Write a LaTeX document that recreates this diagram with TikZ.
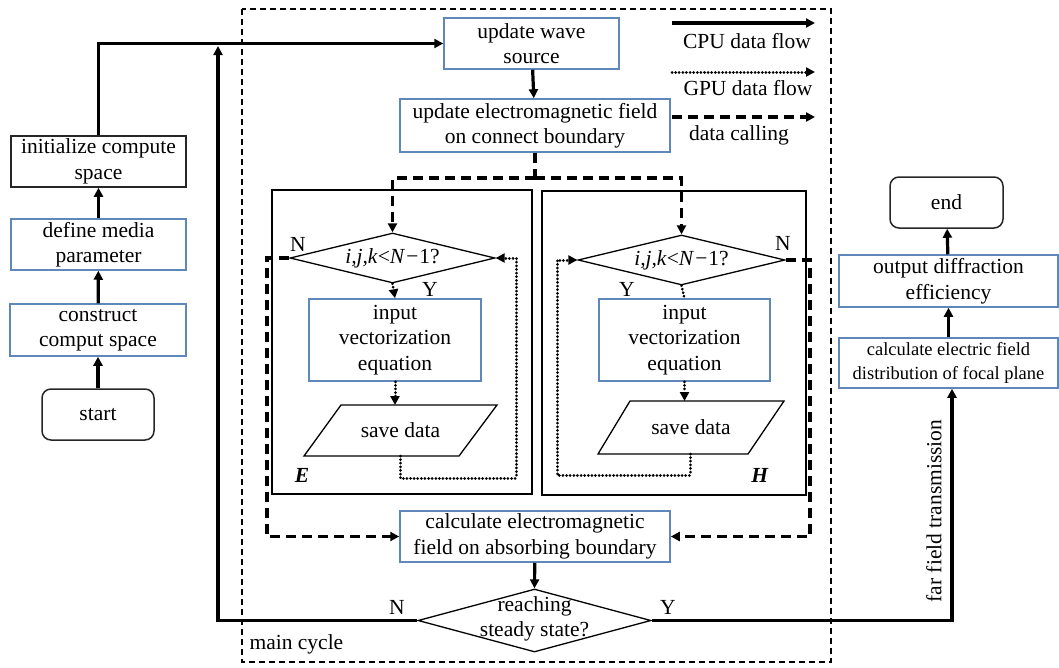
\documentclass[tikz,border=0pt]{standalone}
\usepackage{fontspec}
\setmainfont{Liberation Serif}
\usetikzlibrary{arrows.meta,shapes.geometric,calc}
\definecolor{bblue}{RGB}{96,135,185}
\begin{document}
\begin{tikzpicture}[x=1pt,y=-1pt,
  font=\fontsize{21.5}{25.5}\selectfont,
  bk/.style={draw=black!85, line width=1.5pt, align=center, inner sep=0pt},
  bl/.style={draw=bblue, line width=1.5pt, align=center, inner sep=0pt},
  rb/.style={bk, rounded corners=9pt},
  dm/.style={diamond, draw, line width=1.3pt, inner sep=0pt},
  arr/.style={-{Triangle[length=9pt,width=9pt]}},
  cpu/.style={line width=3.2pt},
  gpu/.style={line width=3pt, line cap=round, dash pattern=on 0.01pt off 3.6pt},
  dcall/.style={line width=3.2pt, dash pattern=on 10pt off 6pt},
  mainc/.style={line width=1.4pt, dash pattern=on 6pt off 4pt},
  frame/.style={draw, line width=1.8pt}
]
\useasboundingbox (0,0) rectangle (1059,667);

% main cycle frame
\draw[mainc] (242,9) rectangle (831,662);
\node[anchor=west] (mc) at (246,644) {main cycle};

% left column
\node[bk, minimum width=175pt, minimum height=51pt] (init) at (98.5,161.5) {initialize compute\\space};
\node[bl, minimum width=175pt, minimum height=51pt] (media) at (98.5,244.5) {define media\\parameter};
\node[bl, minimum width=176pt, minimum height=52pt] (cons) at (98,330) {construct\\comput space};
\node[rb, minimum width=112pt, minimum height=51pt] (start) at (98,414.5) {start};

\draw[cpu,arr] (start) -- (cons);
\draw[cpu,arr] (cons) -- (media);
\draw[cpu,arr] (media) -- (init);

% top boxes
\node[bl, minimum width=175pt, minimum height=51pt] (wave) at (531.5,43.5) {update wave\\source};
\node[bl, minimum width=270pt, minimum height=53pt] (upd) at (535,125.5) {update electromagnetic field\\on connect boundary};
\draw[cpu,arr] (init.north) |- (wave.west);
\draw[cpu,arr] (wave) -- (upd);

% legend
\coordinate (l1a) at (672,23); \coordinate (l1b) at (815,23);
\coordinate (l2a) at (672,72); \coordinate (l2b) at (815,72);
\coordinate (l3a) at (672,117); \coordinate (l3b) at (815,117);
\draw[cpu,arr] (l1a) -- (l1b);
\draw[gpu,arr] (l2a) -- (l2b);
\draw[dcall,arr] (l3a) -- (l3b);
\node (l1t) at (747,41) {CPU data flow};
\node (l2t) at (748,88) {GPU data flow};
\node (l3t) at (739,135) {data calling};

% E and H frames
\draw[frame] (272,190) rectangle (532,494);
\draw[frame] (542,191) rectangle (806,495);
\node (Elab) at (302,475) {\textbf{\textit{E}}};
\node (Hlab) at (760,475) {\textbf{\textit{H}}};

% E branch
\node[dm, minimum width=205pt, minimum height=50pt] (Ed) at (392.5,258) {};
\node (Edt) at (392.5,258) {\textit{i,j,k}<\textit{N}\kern1pt−\kern1pt1?};
\node[bl, minimum width=172pt, minimum height=82pt] (Ein) at (395,340) {input\\vectorization\\equation};
\draw[line width=1.3pt] (304,456) -- (341,405) -- (497,405) -- (459,456) -- cycle;
\node (Es) at (400.5,430.5) {save data};
\coordinate (EsT) at (395,405);
\coordinate (EsB) at (400,456);
\node (EN) at (298,244) {N};
\node (EY) at (430,289) {Y};

% H branch
\node[dm, minimum width=207pt, minimum height=50pt] (Hd) at (681.5,260) {};
\node (Hdt) at (681.5,260) {\textit{i,j,k}<\textit{N}\kern1pt−\kern1pt1?};
\node[bl, minimum width=171pt, minimum height=82pt] (Hin) at (684.5,340) {input\\vectorization\\equation};
\draw[line width=1.3pt] (598,454) -- (630,401) -- (784,401) -- (748,454) -- cycle;
\node (Hs) at (691,427.5) {save data};
\coordinate (HsT) at (684.5,401);
\coordinate (HsB) at (690,454);
\node (HN) at (783,243) {N};
\node (HY) at (627,289) {Y};

% data calling split
\coordinate (split) at (535,178);
\draw[dcall] (upd.south) -- (split);
\draw[dcall,arr] (split) -| (Ed.north);
\draw[dcall,arr] (split) -| (Hd.north);

% GPU flows E
\draw[gpu,arr] (Ed.south) -- (Ein.north);
\draw[gpu,arr] (Ein.south) -- (EsT);
\coordinate (Eq1) at (400,478);
\coordinate (Eq2) at (516,478);
\draw[gpu,arr] (EsB) -- (Eq1) -- (Eq2) -- (Eq2 |- Ed.east) -- (Ed.east);

% GPU flows H
\draw[gpu] (Hd.south) -- (Hin.north);
\draw[gpu,arr] (Hin.south) -- (HsT);
\coordinate (Hq1) at (690,475);
\coordinate (Hq2) at (557,475);
\draw[gpu,arr] (HsB) -- (Hq1) -- (Hq2) -- (Hq2 |- Hd.west) -- (Hd.west);

% absorbing boundary
\node[bl, minimum width=270pt, minimum height=51pt] (calc) at (535,536.5) {calculate electromagnetic\\field on absorbing boundary};
\coordinate (EL) at (267,258);
\coordinate (HR) at (810,260);
\draw[dcall,arr] (Ed.west) -- (EL) -- (EL |- calc.west) -- (calc.west);
\draw[dcall,arr] (Hd.east) -- (HR) -- (HR |- calc.east) -- (calc.east);

% steady state
\node[dm, minimum width=233pt, minimum height=63pt] (reach) at (534.5,620.5) {};
\node (reacht) at (534.5,619) [align=center] {reaching\\steady state?};
\draw[cpu,arr] (calc) -- (reach.north);
\node (RN) at (397,607) {N};
\node (RY) at (668,607) {Y};
\coordinate (loopTop) at (218,46);
\draw[cpu,arr] (reach.west) -| (loopTop);

% right column
\node[rb, minimum width=113pt, minimum height=51pt] (endn) at (946.5,202.5) {end};
\node[bl, minimum width=219pt, minimum height=52pt] (outd) at (948.5,281) {output diffraction\\efficiency};
\node[bl, minimum width=219pt, minimum height=50pt, font=\fontsize{18.5}{24}\selectfont] (cE) at (948.5,363) {calculate electric field\\distribution of focal plane};
\draw[cpu,arr] (cE) -- (outd);
\draw[cpu,arr] (outd) -- (endn);
\draw[cpu,arr] (reach.east) -| ([xshift=3.5pt]cE.south);
\node[rotate=90] (far) at (934,511) {far field transmission};
\end{tikzpicture}
\end{document}
